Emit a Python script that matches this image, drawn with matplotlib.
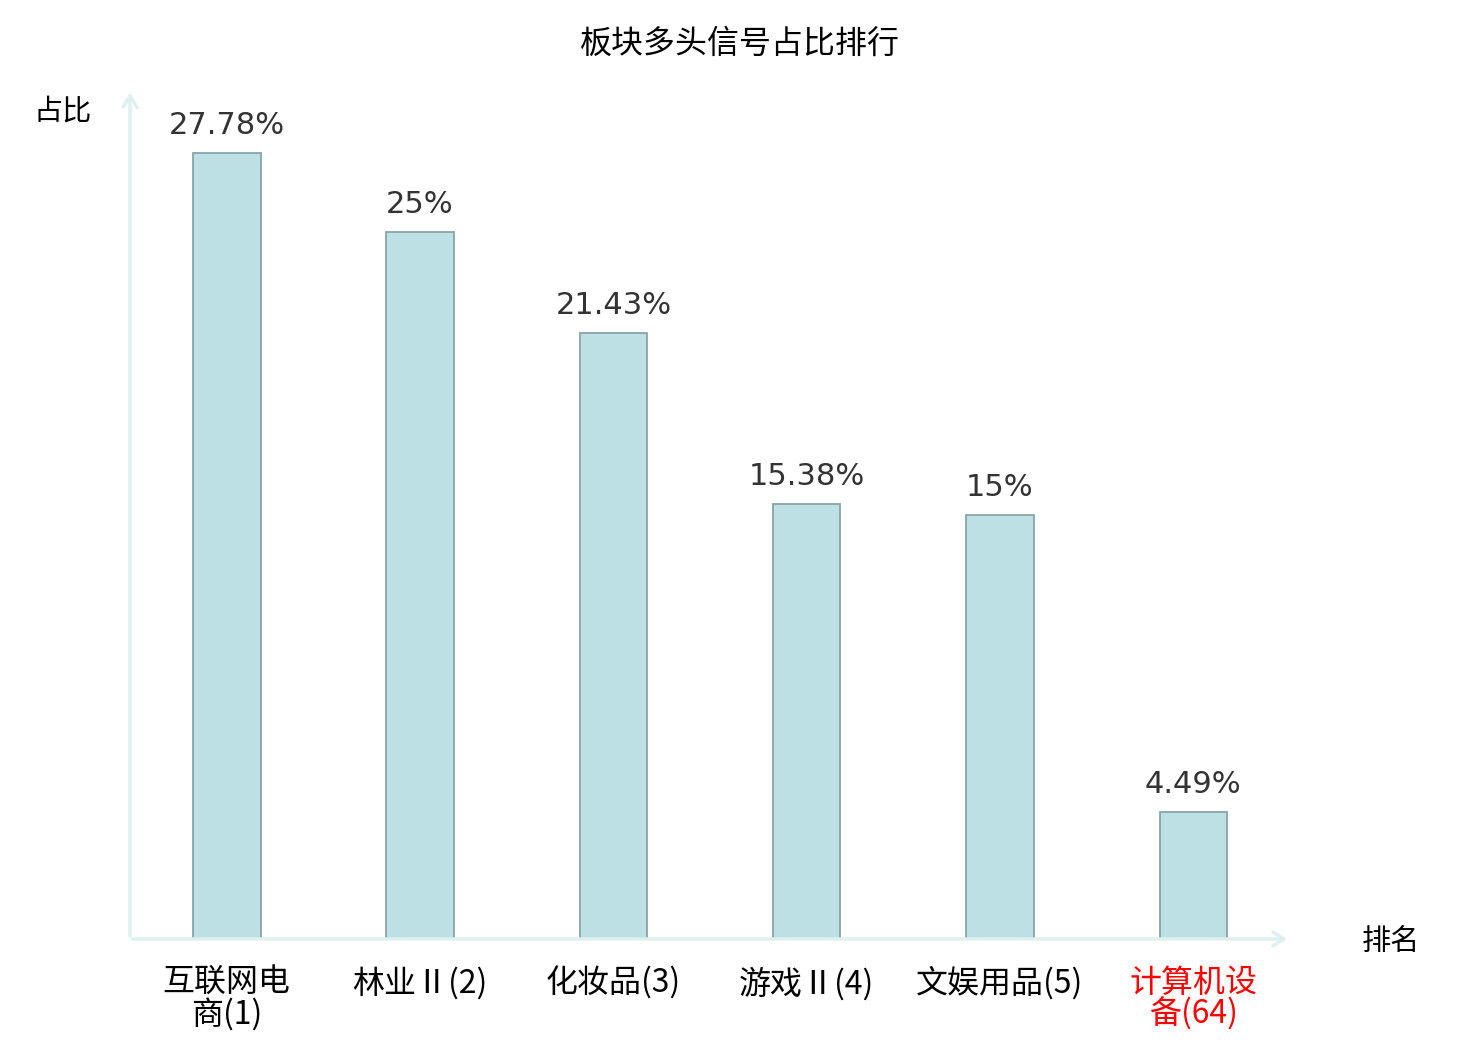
import matplotlib.pyplot as plt

plt.rcParams['font.family'] = ['Noto Sans CJK SC', 'DejaVu Sans']

categories = ['互联网电\n商(1)', '林业Ⅱ(2)', '化妆品(3)', '游戏Ⅱ(4)', '文娱用品(5)', '计算机设\n备(64)']
values = [27.78, 25, 21.43, 15.38, 15, 4.49]
value_labels = ['27.78%', '25%', '21.43%', '15.38%', '15%', '4.49%']
label_colors = ['black', 'black', 'black', 'black', 'black', 'red']

fig = plt.figure(figsize=(14.8, 10.4), dpi=100)
ax = fig.add_axes([130 / 1480, 101 / 1040, 1160 / 1480, 849 / 1040])

x = list(range(len(categories)))
bars = ax.bar(x, values, width=0.35, color='#bce0e3', edgecolor='#89a5a6', linewidth=1.3)

for xi, v, lab in zip(x, values, value_labels):
    ax.text(xi, v + 0.45, lab, ha='center', va='bottom', fontsize=22,
            color='#333333', family='DejaVu Sans')

ax.set_xlim(-0.5, 5.5)
ax.set_ylim(0, 30)
ax.set_xticks(x)
ax.set_xticklabels(categories, fontsize=23, linespacing=0.95)
for t, c in zip(ax.get_xticklabels(), label_colors):
    t.set_color(c)
ax.tick_params(axis='x', length=0, pad=20)
ax.set_yticks([])

for s in ax.spines.values():
    s.set_visible(False)

axis_color = '#dff1ef'
ax.annotate('', xy=(1, 0), xytext=(0, 0), xycoords='axes fraction',
            arrowprops=dict(arrowstyle='->,head_length=0.8,head_width=0.5', color=axis_color, lw=2.5))
ax.annotate('', xy=(0, 1), xytext=(0, 0), xycoords='axes fraction',
            arrowprops=dict(arrowstyle='->,head_length=0.8,head_width=0.5', color=axis_color, lw=2.5))

fig.text(740 / 1480, 1 - 44 / 1040, '板块多头信号占比排行', ha='center', va='center', fontsize=23)
fig.text(63 / 1480, 1 - 111 / 1040, '占比', ha='center', va='center', fontsize=21)
fig.text(1391 / 1480, 1 - 942 / 1040, '排名', ha='center', va='center', fontsize=21)

fig.savefig('out.png', dpi=100)
